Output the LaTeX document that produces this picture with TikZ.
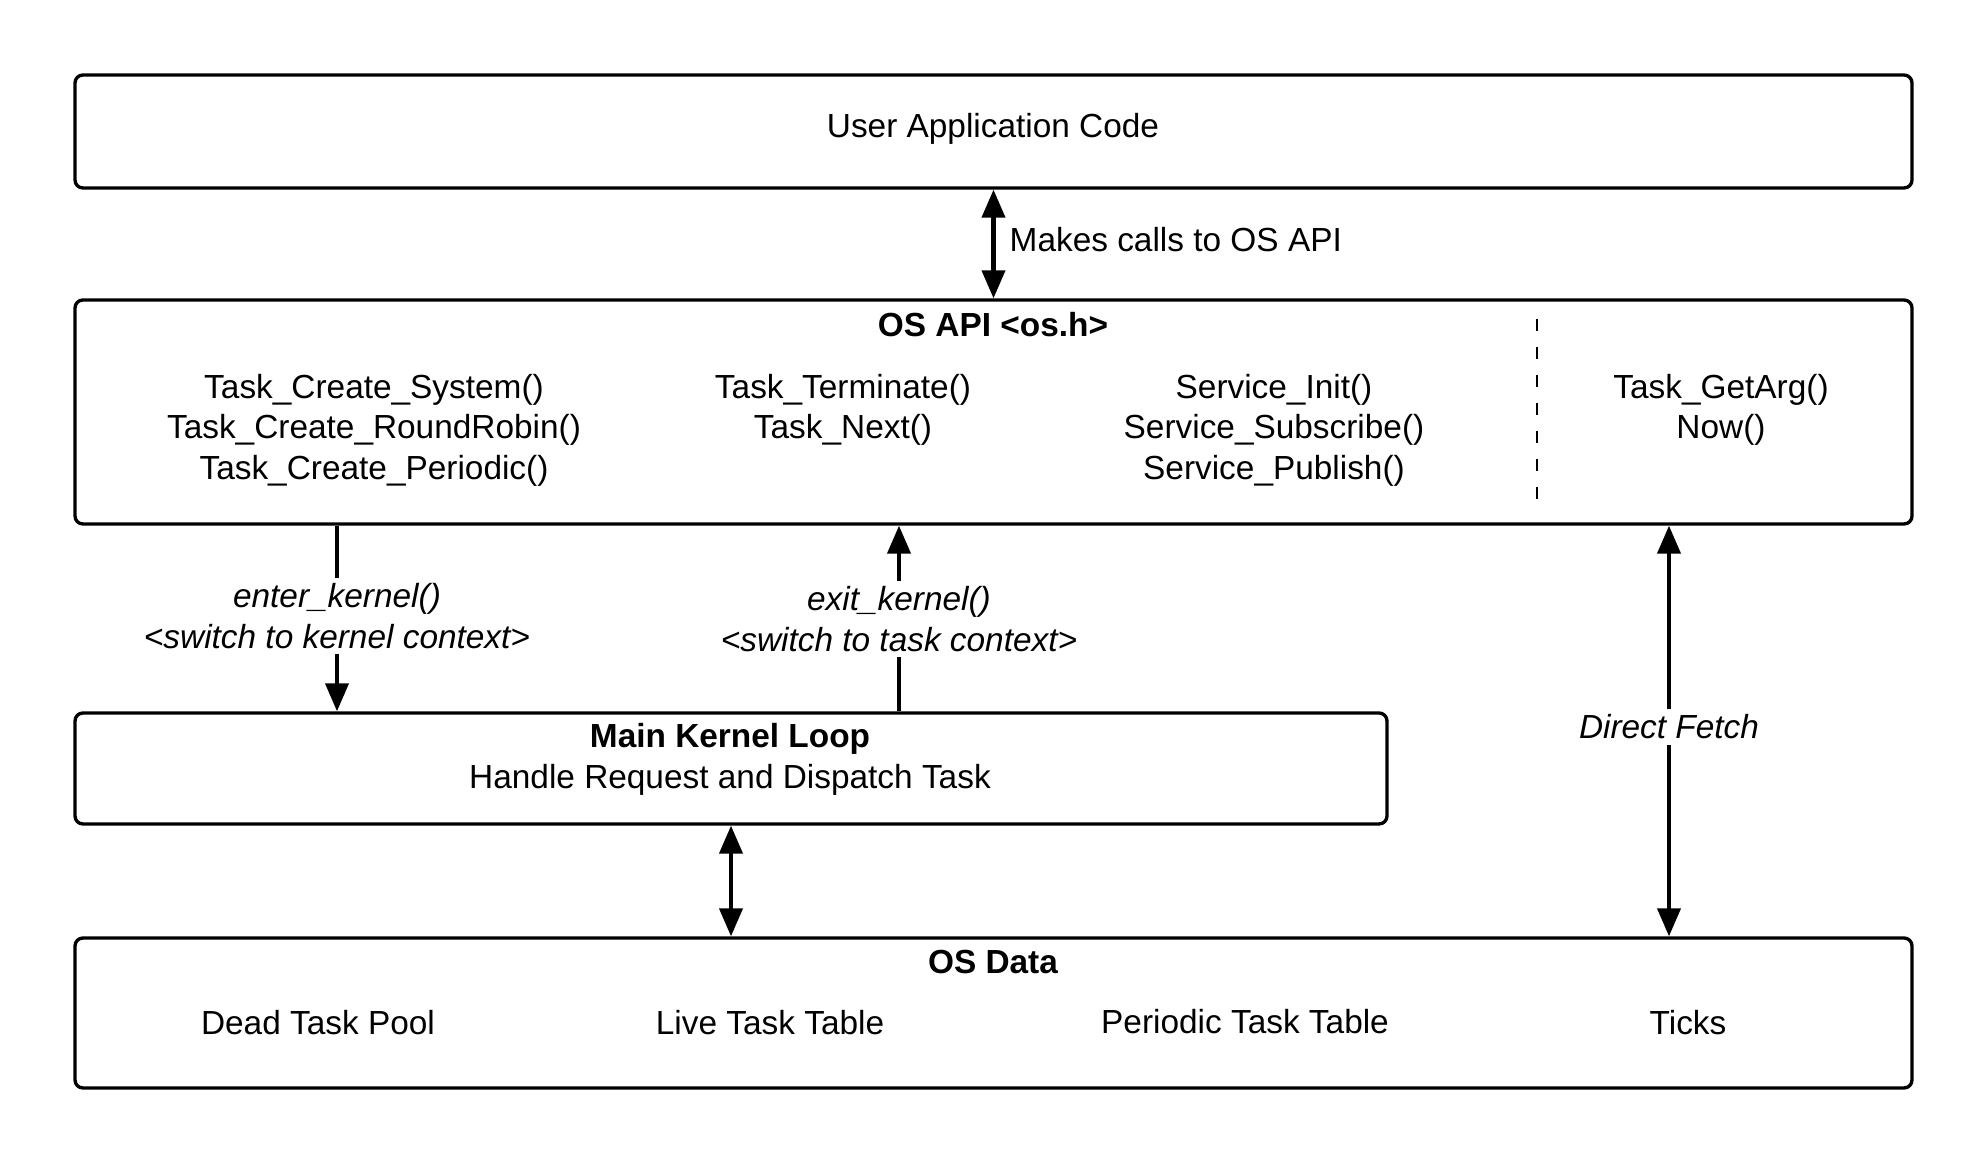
\documentclass[tikz,border=0pt]{standalone}
\usepackage{fontspec}
\setmainfont{Liberation Sans}
\usetikzlibrary{arrows.meta}

\begin{document}
\begin{tikzpicture}
\tikzstyle{box}=[draw,line width=0.95pt,rounded corners=0.08cm,inner sep=0pt];
\tikzstyle{txt}=[font=\fontsize{9.5}{11.5}\selectfont,align=center,inner sep=0.05cm];
\tikzstyle{hd}=[txt,font=\fontsize{9.5}{11.5}\selectfont\bfseries];
\tikzstyle{itl}=[txt,font=\fontsize{9.5}{11.5}\selectfont\itshape];
\tikzstyle{ln}=[line width=1.15pt];
\tikzstyle{arr}=[ln,-{Triangle[length=0.28cm,width=0.23cm]}];
\tikzstyle{darr}=[ln,{Triangle[length=0.28cm,width=0.23cm]}-{Triangle[length=0.28cm,width=0.23cm]}];

\useasboundingbox (0,0) rectangle (19.88,-11.64);

% the four layers
\node[box,minimum width=18.37cm,minimum height=1.13cm] (user) at (9.935,-1.315) {};
\node[box,minimum width=18.37cm,minimum height=2.24cm] (api) at (9.935,-4.12) {};
\node[box,minimum width=13.12cm,minimum height=1.11cm] (kernel) at (7.31,-7.685) {};
\node[box,minimum width=18.37cm,minimum height=1.50cm] (data) at (9.935,-10.13) {};

\node[txt] (usertxt) at (9.93,-1.29) {User Application Code};

\node[hd] (apihd) at (9.93,-3.25) {OS API <os.h>};
\node[txt] (create) at (3.74,-4.30) {Task\_Create\_System()\\Task\_Create\_RoundRobin()\\Task\_Create\_Periodic()};
\node[txt] (term) at (8.43,-4.10) {Task\_Terminate()\\Task\_Next()};
\node[txt] (service) at (12.74,-4.30) {Service\_Init()\\Service\_Subscribe()\\Service\_Publish()};
\node[txt] (getarg) at (17.21,-4.10) {Task\_GetArg()\\Now()};
\draw[line width=0.6pt,dash pattern=on 0.12cm off 0.16cm] (15.37,-3.19) -- (15.37,-5.05);

\node[hd] (loop) at (7.30,-7.39) {Main Kernel Loop};
\node[txt] (dispatch) at (7.30,-7.80) {Handle Request and Dispatch Task};

\node[hd] (datahd) at (9.93,-9.62) {OS Data};
\node[txt] (dead) at (3.18,-10.23) {Dead Task Pool};
\node[txt] (live) at (7.70,-10.23) {Live Task Table};
\node[txt] (periodic) at (12.45,-10.22) {Periodic Task Table};
\node[txt] (ticks) at (16.88,-10.23) {Ticks};

% connectors
\node[txt,anchor=west] (calls) at (10.04,-2.40) {Makes calls to OS API};
\draw[darr] (api.north) -- (user.south);

\node[itl] (enter) at (3.37,-6.16) {enter\_kernel()\\<switch to kernel context>};
\draw[ln] (api.south -| enter) -- (enter);
\draw[arr] (enter) -- (kernel.north -| enter);

\node[itl] (exit) at (8.99,-6.19) {exit\_kernel()\\<switch to task context>};
\draw[ln] (kernel.north -| exit) -- (exit);
\draw[arr] (exit) -- (api.south -| exit);

\node[itl] (fetch) at (16.69,-7.27) {Direct Fetch};
\draw[arr] (fetch) -- (api.south -| fetch);
\draw[arr] (fetch) -- (data.north -| fetch);

\draw[darr] (kernel.south) -- (data.north -| kernel.south);
\end{tikzpicture}
\end{document}
